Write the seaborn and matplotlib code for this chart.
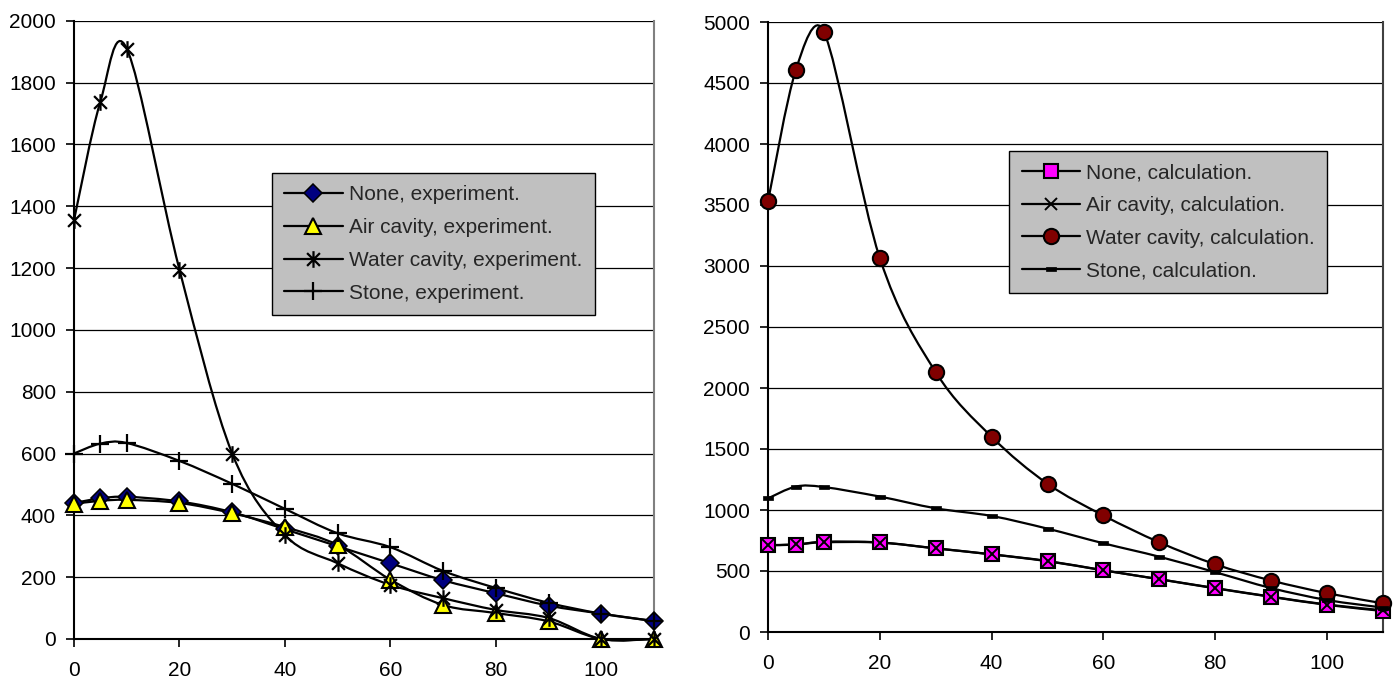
import numpy as np
import matplotlib
matplotlib.use("Agg")
import matplotlib.pyplot as plt
from matplotlib.path import Path
from matplotlib.patches import PathPatch
from matplotlib.lines import Line2D
import seaborn as sns

# depth values (shared by both panels)
x_vals = [0, 5, 10, 20, 30, 40, 50, 60, 70, 80, 90, 100, 110]

# left panel: experiment
none_exp = [440, 455, 460, 445, 410, 355, 300, 245, 190, 148, 108, 82, 58]
air_exp = [437, 447, 450, 440, 407, 362, 304, 192, 110, 84, 57, 0, 0]
water_exp = [1355, 1738, 1910, 1195, 600, 336, 245, 175, 132, 94, 68, 0, 0]
stone_exp = [600, 632, 634, 576, 502, 421, 342, 297, 220, 165, 117, 82, 58]

# right panel: calculation
none_calc = [712, 716, 740, 734, 686, 637, 582, 506, 432, 358, 288, 222, 172]
air_calc = [712, 718, 735, 733, 685, 636, 580, 505, 433, 360, 290, 225, 178]
water_calc = [3530, 4610, 4920, 3065, 2130, 1600, 1215, 955, 735, 555, 422, 318, 235]
stone_calc = [1095, 1192, 1188, 1110, 1014, 951, 847, 727, 617, 490, 360, 262, 200]

labels_exp = ["None, experiment.", "Air cavity, experiment.",
              "Water cavity, experiment.", "Stone, experiment."]
labels_calc = ["None, calculation.", "Air cavity, calculation.",
               "Water cavity, calculation.", "Stone, calculation."]

sns.set_theme(style="white")
plt.rcParams["font.family"] = ["Liberation Sans", "DejaVu Sans"]

# excel-like marker shapes
asterisk = Path([(-1, -1), (1, 1), (-1, 1), (1, -1), (0, -1.3), (0, 1.3)],
                [Path.MOVETO, Path.LINETO, Path.MOVETO, Path.LINETO, Path.MOVETO, Path.LINETO])
dash = Path([(-1, -0.45), (1, -0.45), (1, 0.45), (-1, 0.45), (-1, -0.45)],
            [Path.MOVETO, Path.LINETO, Path.LINETO, Path.LINETO, Path.CLOSEPOLY])

style_exp = [
    dict(marker="D", markersize=9, markerfacecolor="#000080", markeredgewidth=1.1),
    dict(marker="^", markersize=11, markerfacecolor="#FFFF00", markeredgewidth=1.5),
    dict(marker=asterisk, markersize=12, markerfacecolor="none", markeredgewidth=1.6),
    dict(marker="+", markersize=13, markerfacecolor="none", markeredgewidth=1.6),
]
style_calc = [
    dict(marker="s", markersize=10, markerfacecolor="#FF00FF", markeredgewidth=1.5),
    dict(marker="x", markersize=9, markerfacecolor="none", markeredgewidth=1.4),
    dict(marker="o", markersize=11, markerfacecolor="#800000", markeredgewidth=1.5),
    dict(marker=dash, markersize=7, markerfacecolor="black", markeredgewidth=0.5),
]


def smooth_path(xs, ys, sx, sy):
    # bezier smoothing like excel's "smoothed line"; control arms are
    # limited to half the segment length (measured in pixels)
    pts = np.column_stack([xs, ys]).astype(float)
    ext = np.vstack([pts[0], pts, pts[-1]])
    scale = np.array([sx, sy])
    verts = [pts[0]]
    codes = [Path.MOVETO]
    for i in range(len(pts) - 1):
        p0, p1, p2, p3 = ext[i], ext[i + 1], ext[i + 2], ext[i + 3]
        seg = np.linalg.norm((p2 - p1) * scale)
        t1 = (p2 - p0) / 6
        t2 = (p3 - p1) / 6
        l1 = np.linalg.norm(t1 * scale)
        l2 = np.linalg.norm(t2 * scale)
        if l1 > seg / 2:
            t1 = t1 * (seg / 2) / l1
        if l2 > seg / 2:
            t2 = t2 * (seg / 2) / l2
        verts += [p1 + t1, p2 - t2, p2]
        codes += [Path.CURVE4] * 3
    return Path(verts, codes)


def draw_panel(ax, series, styles, labels, ymax, ystep, legend_anchor, right_color, w_px, h_px):
    sx = w_px / 110
    sy = h_px / ymax
    handles = []
    for ys, st, lab in zip(series, styles, labels):
        ax.add_patch(PathPatch(smooth_path(x_vals, ys, sx, sy), fill=False,
                               edgecolor="black", linewidth=1.6, zorder=3, clip_on=False))
        sns.lineplot(x=x_vals, y=ys, ax=ax, linestyle="", color="black",
                     markeredgecolor="black", errorbar=None, zorder=4, clip_on=False, **st)
        handles.append(Line2D([], [], color="black", linewidth=1.6,
                              markeredgecolor="black", label=lab, **st))
    ax.set_xlim(0, 110)
    ax.set_ylim(0, ymax)
    ax.set_xticks(range(0, 101, 20))
    ax.set_yticks(range(0, ymax + 1, ystep))
    ax.yaxis.grid(True, color="black", linewidth=0.9)
    ax.set_axisbelow(True)
    ax.tick_params(axis="both", direction="out", length=6, width=1.2,
                   color="black", labelsize=15, pad=7, labelcolor="black")
    ax.tick_params(axis="x", pad=10)
    ax.tick_params(left=True, bottom=True)
    for side in ["left", "bottom"]:
        ax.spines[side].set_color("black")
        ax.spines[side].set_linewidth(1.5)
    ax.spines["top"].set_visible(False)
    ax.spines["right"].set_color(right_color)
    ax.spines["right"].set_linewidth(1.5)
    leg = ax.legend(handles=handles, loc="upper left", bbox_to_anchor=legend_anchor,
                    borderaxespad=0, fontsize=15, frameon=True, fancybox=False,
                    framealpha=1, facecolor="#C0C0C0", edgecolor="black",
                    handlelength=2.8, handletextpad=0.3, labelspacing=0.66,
                    borderpad=0.6)
    leg.get_frame().set_linewidth(1.0)
    leg.set_zorder(10)


fig = plt.figure(figsize=(13.98, 6.81), dpi=100)
ax1 = fig.add_axes([74 / 1398, 42 / 681, 580 / 1398, 618.3 / 681])
ax2 = fig.add_axes([768 / 1398, 49 / 681, 615 / 1398, 610 / 681])

draw_panel(ax1, [none_exp, air_exp, water_exp, stone_exp], style_exp, labels_exp,
           2000, 200, (0.341, 0.754), "#808080", 580, 618.3)
draw_panel(ax2, [none_calc, air_calc, water_calc, stone_calc], style_calc, labels_calc,
           5000, 500, (0.392, 0.789), "#404040", 615, 610)

fig.savefig("out.png", dpi=100)
